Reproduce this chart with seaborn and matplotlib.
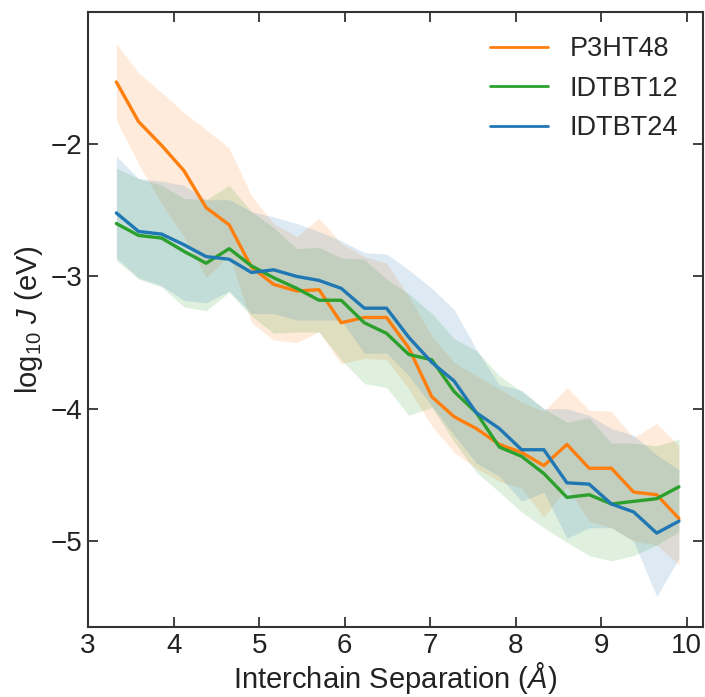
import numpy as np
import pandas as pd
import matplotlib
matplotlib.use("Agg")
import matplotlib.pyplot as plt
import seaborn as sns

# Data
separation = [3.33, 3.59, 3.86, 4.12, 4.38, 4.65, 4.91, 5.17, 5.44, 5.70, 5.96,
              6.23, 6.49, 6.75, 7.02, 7.28, 7.54, 7.81, 8.07, 8.33, 8.60, 8.86,
              9.12, 9.38, 9.65, 9.91]

p3ht48_mean = [-1.53, -1.83, -2.01, -2.20, -2.48, -2.61, -2.93, -3.06, -3.11, -3.10,
               -3.35, -3.31, -3.31, -3.54, -3.91, -4.06, -4.15, -4.27, -4.33, -4.43,
               -4.27, -4.45, -4.45, -4.63, -4.65, -4.83]
p3ht48_upper = [-1.24, -1.46, -1.61, -1.76, -1.89, -2.03, -2.39, -2.60, -2.70, -2.56,
                -2.75, -2.85, -2.90, -3.15, -3.45, -3.65, -3.75, -3.85, -3.95, -4.02,
                -3.84, -4.01, -4.02, -4.22, -4.11, -4.28]
p3ht48_lower = [-1.82, -2.15, -2.45, -2.70, -3.01, -2.84, -3.35, -3.48, -3.50, -3.42,
                -3.66, -3.62, -3.63, -3.85, -4.13, -4.33, -4.45, -4.55, -4.60, -4.82,
                -4.59, -4.85, -4.90, -5.00, -5.03, -5.18]

idtbt12_mean = [-2.60, -2.69, -2.71, -2.81, -2.90, -2.79, -2.92, -3.01, -3.09, -3.18,
                -3.18, -3.35, -3.43, -3.59, -3.63, -3.87, -4.03, -4.29, -4.36, -4.49,
                -4.67, -4.65, -4.72, -4.70, -4.68, -4.59]
idtbt12_upper = [-2.18, -2.26, -2.31, -2.41, -2.42, -2.31, -2.51, -2.63, -2.79, -2.78,
                 -2.86, -2.87, -3.02, -3.13, -3.28, -3.47, -3.56, -3.75, -3.87, -4.00,
                 -4.10, -4.07, -4.26, -4.26, -4.28, -4.23]
idtbt12_lower = [-2.88, -3.02, -3.08, -3.23, -3.26, -3.12, -3.30, -3.43, -3.42, -3.42,
                 -3.63, -3.81, -3.84, -4.05, -3.99, -4.25, -4.48, -4.63, -4.78, -4.90,
                 -5.01, -5.11, -5.15, -5.11, -5.03, -4.93]

idtbt24_mean = [-2.52, -2.66, -2.68, -2.76, -2.85, -2.87, -2.97, -2.95, -3.00, -3.03,
                -3.09, -3.24, -3.24, -3.46, -3.65, -3.79, -4.03, -4.15, -4.31, -4.31,
                -4.56, -4.57, -4.72, -4.78, -4.94, -4.85]
idtbt24_upper = [-2.09, -2.26, -2.28, -2.31, -2.42, -2.42, -2.51, -2.55, -2.60, -2.66,
                 -2.73, -2.82, -2.83, -2.95, -3.09, -3.25, -3.55, -3.82, -3.86, -4.00,
                 -4.00, -4.05, -4.15, -4.20, -4.35, -4.46]
idtbt24_lower = [-2.86, -3.01, -3.07, -3.18, -3.20, -3.11, -3.28, -3.28, -3.33, -3.33,
                 -3.33, -3.58, -3.58, -3.75, -3.98, -4.20, -4.41, -4.51, -4.70, -4.63,
                 -4.98, -4.90, -4.90, -5.00, -5.42, -5.13]

series_names = ["P3HT48", "IDTBT12", "IDTBT24"]
colors = ["#ff7f0e", "#2ca02c", "#1f77b4"]

sns.set_style("ticks")
plt.rcParams['font.family'] = ['Liberation Sans', 'DejaVu Sans']
plt.rcParams['mathtext.fontset'] = 'custom'
plt.rcParams['mathtext.rm'] = 'Liberation Sans'
plt.rcParams['mathtext.it'] = 'Liberation Sans:italic'

means = [p3ht48_mean, idtbt12_mean, idtbt24_mean]
uppers = [p3ht48_upper, idtbt12_upper, idtbt24_upper]
lowers = [p3ht48_lower, idtbt12_lower, idtbt24_lower]

rows = []
for name, m in zip(series_names, means):
    for x, v in zip(separation, m):
        rows.append({"sep": x, "logJ": v, "polymer": name})
df = pd.DataFrame(rows)

fig = plt.figure(figsize=(7.05, 6.97), dpi=100)
ax = fig.add_axes([0.125, 0.1004, 0.872, 0.8826])

for name, up, lo, c in zip(series_names, uppers, lowers, colors):
    ax.fill_between(separation, lo, up, color=c, alpha=0.15, linewidth=0)

sns.lineplot(data=df, x="sep", y="logJ", hue="polymer", hue_order=series_names,
             palette=colors, linewidth=2.4, ax=ax, errorbar=None)

ax.set_xlim(3, 10.19)
ax.set_ylim(-5.65, -1.0)
ax.set_xticks([3, 4, 5, 6, 7, 8, 9, 10])
ax.set_yticks([-2, -3, -4, -5])
ax.set_yticklabels(["\u22122", "\u22123", "\u22124", "\u22125"])
ax.tick_params(direction="in", length=7, width=1.3, labelsize=20, top=True, right=True,
               color="#333333", labelcolor="#222222", pad=4)
for s in ax.spines.values():
    s.set_linewidth(1.5)
    s.set_color("#333333")

ax.set_xlabel("Interchain Separation ($\\mathit{\u00c5}$)", fontsize=21, color="#222222", labelpad=1)
ax.set_ylabel("log$_{10}$ $\\mathit{J}$ (eV)", fontsize=21, color="#222222", labelpad=4)

leg = ax.legend(loc="upper right", frameon=False, fontsize=19.5, handlelength=2.15,
                handletextpad=0.8, labelspacing=0.5, borderaxespad=0.5)
for line in leg.get_lines():
    line.set_linewidth(2.0)

fig.savefig("out.png", dpi=100)
